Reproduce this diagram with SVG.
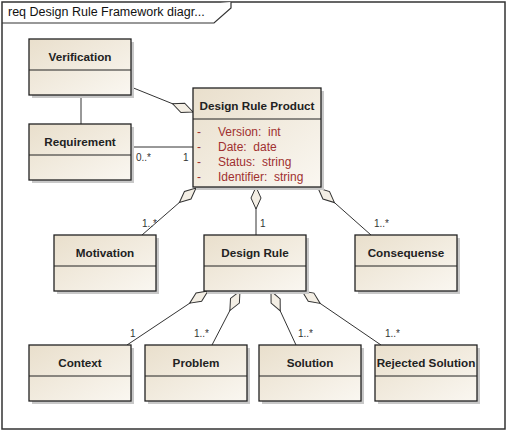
<svg xmlns="http://www.w3.org/2000/svg" width="507" height="431" viewBox="0 0 507 431">
<style>
  .frame{fill:#ffffff;stroke:#333;stroke-width:1.5}
  .box{fill:url(#g);stroke:#222;stroke-width:1.3}
  .sh{fill:#c8c8c8}
  .div{stroke:#222;stroke-width:1}
  .t{font-family:"Liberation Sans",Arial,sans-serif;font-size:11.7px;font-weight:bold;fill:#222;text-anchor:middle}
  .a{font-family:"Liberation Sans",Arial,sans-serif;font-size:12px;fill:#a03030;white-space:pre}
  .l{font-family:"Liberation Sans",Arial,sans-serif;font-size:10px;fill:#333}
  .c{stroke:#333;stroke-width:1;fill:none}
  .h{font-family:"Liberation Sans",Arial,sans-serif;font-size:12.5px;fill:#111}
</style>
<defs>
  <linearGradient id="g" x1="0" y1="0" x2="1" y2="1">
    <stop offset="0" stop-color="#e9dfcc"/>
    <stop offset="1" stop-color="#faf7f1"/>
  </linearGradient>
  <marker id="agg" markerUnits="userSpaceOnUse" markerWidth="24" markerHeight="14" refX="0" refY="6" orient="auto" viewBox="0 0 24 12">
    <path d="M0,6 L11,1 L22,6 L11,11 Z" fill="#f3eee4" stroke="#333" stroke-width="1"/>
  </marker>
</defs>
<rect class="frame" x="2" y="2" width="503" height="427"/>
<path d="M2,23 H214 L231,8 V2" fill="#fff" stroke="#333" stroke-width="1.2"/>
<text class="h" x="8" y="16">req Design Rule Framework diagr...</text>

<g id="connectors">
  <path class="c" d="M81,94 V124"/>
  <path class="c" d="M131,147 H193"/>
  <path class="c" d="M193,112 L131,87" marker-start="url(#agg)"/>
  <path class="c" d="M196,188 L142,235" marker-start="url(#agg)"/>
  <path class="c" d="M256,187 L256,235" marker-start="url(#agg)"/>
  <path class="c" d="M318,188 L371,235" marker-start="url(#agg)"/>
  <path class="c" d="M208,291 L127,345" marker-start="url(#agg)"/>
  <path class="c" d="M240,291 L212,345" marker-start="url(#agg)"/>
  <path class="c" d="M271,291 L296,345" marker-start="url(#agg)"/>
  <path class="c" d="M302,291 L381,345" marker-start="url(#agg)"/>
  <text class="l" x="136" y="161">0..*</text>
  <text class="l" x="183" y="161">1</text>
  <text class="l" x="142" y="227">1..*</text>
  <text class="l" x="260" y="227">1</text>
  <text class="l" x="374" y="227">1..*</text>
  <text class="l" x="130" y="337">1</text>
  <text class="l" x="194" y="337">1..*</text>
  <text class="l" x="298" y="337">1..*</text>
  <text class="l" x="385" y="337">1..*</text>
</g>

<g id="verification">
  <rect class="sh" x="32" y="42" width="102" height="56"/>
  <rect class="box" x="29" y="39" width="102" height="56"/>
  <line class="div" x1="29" y1="70" x2="131" y2="70"/>
  <text class="t" x="80" y="61">Verification</text>
</g>
<g id="requirement">
  <rect class="sh" x="32" y="127" width="102" height="56"/>
  <rect class="box" x="29" y="124" width="102" height="56"/>
  <line class="div" x1="29" y1="155" x2="131" y2="155"/>
  <text class="t" x="80" y="146">Requirement</text>
</g>
<g id="design-rule-product">
  <rect class="sh" x="196" y="91" width="128" height="99"/>
  <rect class="box" x="193" y="88" width="128" height="99"/>
  <line class="div" x1="193" y1="119" x2="321" y2="119"/>
  <text class="t" x="257" y="110">Design Rule Product</text>
  <text class="a" x="197" y="136">-</text><text class="a" x="218" y="136" xml:space="preserve">Version:  int</text>
  <text class="a" x="197" y="151">-</text><text class="a" x="218" y="151" xml:space="preserve">Date:  date</text>
  <text class="a" x="197" y="166">-</text><text class="a" x="218" y="166" xml:space="preserve">Status:  string</text>
  <text class="a" x="197" y="181">-</text><text class="a" x="218" y="181" xml:space="preserve">Identifier:  string</text>
</g>
<g id="motivation">
  <rect class="sh" x="57" y="238" width="102" height="56"/>
  <rect class="box" x="54" y="235" width="102" height="56"/>
  <line class="div" x1="54" y1="266" x2="156" y2="266"/>
  <text class="t" x="105" y="257">Motivation</text>
</g>
<g id="design-rule">
  <rect class="sh" x="207" y="238" width="102" height="56"/>
  <rect class="box" x="204" y="235" width="102" height="56"/>
  <line class="div" x1="204" y1="266" x2="306" y2="266"/>
  <text class="t" x="255" y="257">Design Rule</text>
</g>
<g id="consequense">
  <rect class="sh" x="358" y="238" width="102" height="56"/>
  <rect class="box" x="355" y="235" width="102" height="56"/>
  <line class="div" x1="355" y1="266" x2="457" y2="266"/>
  <text class="t" x="406" y="257">Consequense</text>
</g>
<g id="context">
  <rect class="sh" x="32" y="348" width="102" height="56"/>
  <rect class="box" x="29" y="345" width="102" height="56"/>
  <line class="div" x1="29" y1="376" x2="131" y2="376"/>
  <text class="t" x="80" y="367">Context</text>
</g>
<g id="problem">
  <rect class="sh" x="148" y="348" width="102" height="56"/>
  <rect class="box" x="145" y="345" width="102" height="56"/>
  <line class="div" x1="145" y1="376" x2="247" y2="376"/>
  <text class="t" x="196" y="367">Problem</text>
</g>
<g id="solution">
  <rect class="sh" x="262" y="348" width="102" height="56"/>
  <rect class="box" x="259" y="345" width="102" height="56"/>
  <line class="div" x1="259" y1="376" x2="361" y2="376"/>
  <text class="t" x="310" y="367">Solution</text>
</g>
<g id="rejected-solution">
  <rect class="sh" x="378" y="348" width="102" height="56"/>
  <rect class="box" x="375" y="345" width="102" height="56"/>
  <line class="div" x1="375" y1="376" x2="477" y2="376"/>
  <text class="t" x="426" y="367">Rejected Solution</text>
</g>
</svg>
